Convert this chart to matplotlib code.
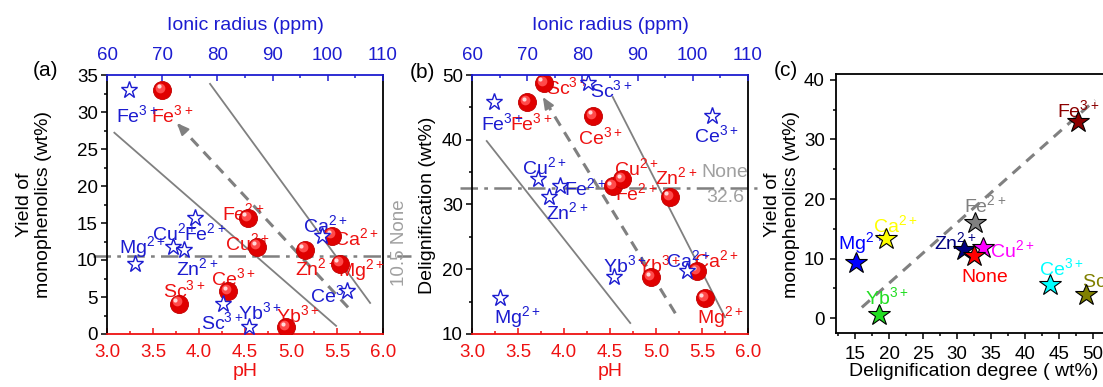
import matplotlib
matplotlib.use('agg')
import numpy as np
import matplotlib.pyplot as plt
from matplotlib.ticker import MultipleLocator
from matplotlib.transforms import offset_copy

plt.rcParams['font.family'] = ['Liberation Sans', 'DejaVu Sans']
plt.rcParams['mathtext.default'] = 'regular'

RED = '#ee1111'
BLUE = '#1c1cd0'
GRAY = '#808080'
LGRAY = '#a0a0a0'

# --- data, panels (a) and (b) ---
ions = ['Fe$^{3+}$', 'Fe$^{2+}$', 'Cu$^{2+}$', 'Zn$^{2+}$', 'Ca$^{2+}$',
        'Mg$^{2+}$', 'Ce$^{3+}$', 'Sc$^{3+}$', 'Yb$^{3+}$']
ph = [3.60, 4.53, 4.63, 5.15, 5.45, 5.53, 4.32, 3.78, 4.95]
radius = [64.0, 76.0, 72.0, 74.0, 99.0, 65.0, 103.5, 81.0, 85.7]
yield_mono = [33.0, 15.7, 11.8, 11.4, 13.3, 9.5, 5.8, 4.1, 0.9]
delig = [45.8, 32.8, 33.9, 31.2, 19.7, 15.5, 43.7, 48.8, 18.8]
none_yield = 10.5
none_delig = 32.6

# label positions (pH units)
lab_a_red = [(3.71, 29.6), (4.48, 16.3), (4.53, 12.3), (5.27, 8.9), (5.71, 13.0),
             (5.76, 8.6), (4.37, 7.6), (3.84, 5.9), (5.07, 2.6)]
lab_a_blue = [(3.33, 29.6), (4.07, 13.6), (3.73, 13.6), (3.98, 8.9), (5.37, 14.7),
              (3.39, 11.8), (5.45, 5.3), (4.25, 1.6), (4.66, 3.0)]
lab_b_red = [(3.64, 42.6), (4.78, 31.8), (4.79, 35.6), (5.22, 34.3), (5.66, 21.4),
             (5.70, 12.6), (4.40, 40.4), (4.03, 48.1), (5.03, 20.7)]
lab_b_blue = [(3.33, 42.6), (4.23, 32.5), (3.79, 35.8), (4.04, 28.8), (5.35, 21.4),
              (3.49, 12.6), (5.66, 40.7), (4.51, 47.7), (4.66, 20.7)]

# guide lines (pH, value)
guides_a = [((3.08, 27.2), (5.49, 1.1)), ((4.12, 33.8), (5.86, 4.2))]
arrow_a = ((5.62, 3.6), (3.76, 28.5))
guides_b = [((3.16, 39.8), (4.72, 11.7)), ((4.53, 46.6), (5.75, 12.6))]
arrow_b = ((5.21, 13.2), (3.77, 46.6))

# --- data, panel (c) ---
ions_c = ['Fe$^{3+}$', 'Fe$^{2+}$', 'Ca$^{2+}$', 'Mg$^{2+}$', 'Zn$^{2+}$',
          'Cu$^{2+}$', 'None', 'Ce$^{3+}$', 'Sc$^{3+}$', 'Yb$^{3+}$']
delig_c = [47.8, 32.6, 19.5, 15.2, 31.0, 33.8, 32.5, 43.7, 49.0, 18.5]
yield_c = [33.0, 16.0, 13.3, 9.3, 11.4, 11.8, 10.4, 5.6, 3.8, 0.6]
colors_c = ['#8b0000', '#808080', '#ffff00', '#0000ff', '#000080',
            '#ff00ff', '#ff0000', '#00ffff', '#808000', '#22dd22']
lab_c = [(47.8, 35.0), (34.1, 19.0), (20.9, 15.6), (15.9, 12.6), (29.8, 12.8),
         (38.1, 11.4), (34.1, 6.9), (45.4, 8.4), (51.5, 6.4), (19.7, 3.5)]
trend_c = ((16.0, 1.8), (50.3, 36.6))

W, H = 1103, 387
fig = plt.figure(figsize=(W / 100, H / 100), dpi=100)
FS_ION = 14


def box(l, t, r, b):
    return [l / W, 1 - b / H, (r - l) / W, (b - t) / H]


def spheres(ax, x, y):
    ax.plot(x, y, 'o', ms=13, mfc='#e00000', mec='#c00000', mew=0.6, ls='none', zorder=4)
    tr = offset_copy(ax.transData, fig=fig, x=-1.6, y=1.6, units='points')
    ax.plot(x, y, 'o', ms=7, mfc='#ff4a4a', mec='none', ls='none', zorder=5, transform=tr)
    tr2 = offset_copy(ax.transData, fig=fig, x=-2.4, y=2.4, units='points')
    ax.plot(x, y, 'o', ms=3, mfc='#ffd8d8', mec='none', ls='none', zorder=6, transform=tr2)


def ph_panel(ax, ylim, ymaj, ymin, yvals, ylab_pos_red, ylab_pos_blue, guides, arrow):
    ax.set_xlim(3, 6)
    ax.set_ylim(*ylim)
    ax.xaxis.set_major_locator(MultipleLocator(0.5))
    ax.xaxis.set_minor_locator(MultipleLocator(0.25))
    ax.yaxis.set_major_locator(MultipleLocator(ymaj))
    ax.yaxis.set_minor_locator(MultipleLocator(ymin))
    for s in ax.spines.values():
        s.set_linewidth(1.3)
    ax.spines['bottom'].set_color(RED)
    ax.spines['top'].set_visible(False)
    ax.tick_params(axis='x', which='both', direction='in', colors=RED, labelsize=13.5,
                   width=1.1, pad=7)
    ax.tick_params(axis='y', which='both', direction='out', labelsize=13.5, width=1.1, pad=2)
    ax.tick_params(which='major', length=4.5)
    ax.tick_params(which='minor', length=2.5)
    ax.set_xlabel('pH', color=RED, fontsize=14, labelpad=2)

    for (p0, p1) in guides:
        ax.plot([p0[0], p1[0]], [p0[1], p1[1]], color=GRAY, lw=1.3, zorder=2)
    tail, head = arrow
    ax.plot([tail[0], head[0]], [tail[1], head[1]], color=GRAY, lw=2.2,
            ls=(0, (3.5, 2.5)), zorder=2)
    ax.annotate('', xy=head, xytext=(head[0] + (tail[0] - head[0]) * 0.04,
                                     head[1] + (tail[1] - head[1]) * 0.04),
                arrowprops=dict(arrowstyle='-|>,head_length=0.7,head_width=0.3',
                                color=GRAY, lw=1.5, shrinkA=0, shrinkB=0), zorder=3)

    for name, (lx, ly) in zip(ions, ylab_pos_red):
        ax.text(lx, ly, name, color=RED, fontsize=FS_ION, ha='center', va='center', zorder=3)
    for name, (lx, ly) in zip(ions, ylab_pos_blue):
        ax.text(lx, ly, name, color=BLUE, fontsize=FS_ION, ha='center', va='center', zorder=3)
    spheres(ax, ph, yvals)

    top = ax.twiny()
    top.set_xlim(60, 110)
    top.xaxis.set_major_locator(MultipleLocator(10))
    top.xaxis.set_minor_locator(MultipleLocator(5))
    for k in ['bottom', 'left', 'right']:
        top.spines[k].set_visible(False)
    top.spines['top'].set_color(BLUE)
    top.spines['top'].set_linewidth(1.3)
    top.tick_params(axis='x', which='both', direction='in', colors=BLUE, labelsize=13.5,
                    width=1.1, pad=8)
    top.tick_params(which='major', length=4.5)
    top.tick_params(which='minor', length=2.5)
    top.set_xlabel('Ionic radius (ppm)', color=BLUE, fontsize=14, labelpad=12)
    top.plot(radius, yvals, '*', ms=12.5, mfc='white', mec=BLUE, mew=1.0, ls='none', zorder=5)
    return top


# (a)
ax1 = fig.add_axes(box(107, 75, 383, 334))
ph_panel(ax1, (0, 35), 5, 2.5, yield_mono, lab_a_red, lab_a_blue, guides_a, arrow_a)
ax1.plot([2.85, 6.3], [none_yield, none_yield], color=GRAY, lw=1.8,
         ls=(0, (7, 2.5, 1.5, 2.5)), clip_on=False, zorder=1)
fig.text(400 / W, 1 - 243 / H, '10.5 None', rotation=90, color=LGRAY, fontsize=13.5,
         ha='center', va='center')
fig.text(34 / W, 1 - 205 / H, 'Yield of\nmonophenolics (wt%)', rotation=90,
         fontsize=14, ha='center', va='center', multialignment='center', linespacing=1.1)
fig.text(46 / W, 1 - 70 / H, '(a)', fontsize=15, ha='center', va='center')

# (b)
ax2 = fig.add_axes(box(472, 75, 748, 334))
ph_panel(ax2, (10, 50), 10, 5, delig, lab_b_red, lab_b_blue, guides_b, arrow_b)
ax2.plot([2.87, 6.1], [none_delig, none_delig], color=GRAY, lw=1.8,
         ls=(0, (7, 2.5, 1.5, 2.5)), clip_on=False, zorder=1)
ax2.text(5.75, none_delig + 2.3, 'None', color=LGRAY, fontsize=FS_ION, ha='center', va='center')
ax2.text(5.75, none_delig - 1.5, f'{none_delig}', color=LGRAY, fontsize=FS_ION,
         ha='center', va='center')
fig.text(428 / W, 1 - 205 / H, 'Delignification (wt%)', rotation=90,
         fontsize=14, ha='center', va='center')
fig.text(422 / W, 1 - 72 / H, '(b)', fontsize=15, ha='center', va='center')

# (c)
ax3 = fig.add_axes(box(836, 74, 1127, 333))
ax3.set_xlim(12.2, 55)
ax3.set_ylim(-2.5, 41)
ax3.xaxis.set_major_locator(MultipleLocator(5))
ax3.xaxis.set_minor_locator(MultipleLocator(2.5))
ax3.yaxis.set_major_locator(MultipleLocator(10))
ax3.yaxis.set_minor_locator(MultipleLocator(5))
for s in ax3.spines.values():
    s.set_linewidth(1.3)
ax3.tick_params(which='both', direction='out', labelsize=13.5, width=1.1)
ax3.tick_params(which='major', length=4.5)
ax3.tick_params(which='minor', length=2.5)
ax3.tick_params(axis='x', pad=5)
ax3.plot([trend_c[0][0], trend_c[1][0]], [trend_c[0][1], trend_c[1][1]], color=GRAY,
         lw=2.2, ls=(0, (3.5, 2.5)), zorder=2)
for x, y, c in zip(delig_c, yield_c, colors_c):
    ax3.plot(x, y, '*', ms=16.5, mfc=c, mec='black', mew=0.8, zorder=4)
for name, (lx, ly), c in zip(ions_c, lab_c, colors_c):
    ax3.text(lx, ly, name, color=c, fontsize=FS_ION, ha='center', va='center', zorder=3)
fig.text(974 / W, 1 - 371 / H, 'Delignification degree ( wt%)', fontsize=14,
         ha='center', va='center')
fig.text(782 / W, 1 - 205 / H, 'Yield of\nmonophenolics (wt%)', rotation=90,
         fontsize=14, ha='center', va='center', multialignment='center', linespacing=1.1)
fig.text(786 / W, 1 - 70 / H, '(c)', fontsize=15, ha='center', va='center')

fig.savefig('out.png', dpi=100)
